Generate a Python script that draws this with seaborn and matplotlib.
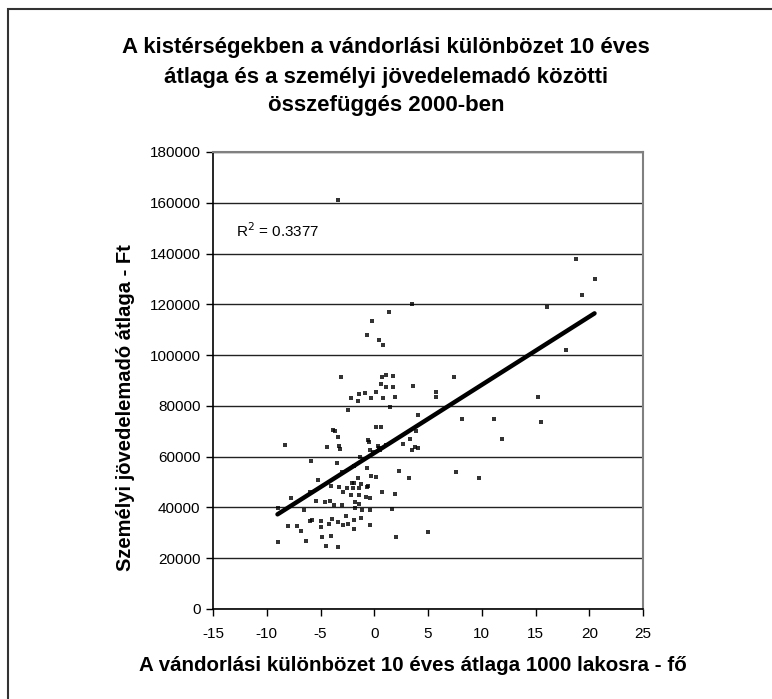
import matplotlib
matplotlib.use("Agg")
import matplotlib.pyplot as plt
import seaborn as sns
import pandas as pd
from matplotlib.patches import Rectangle

# vándorlási különbözet 10 éves átlaga (1000 lakosra, fő)
migration = [
    -3.38, 18.75, 20.49, 19.31, 3.49, 1.35, 16.11, -0.17, -0.64, 0.42,
    0.85, 17.85, -3.13, 0.76, 1.10, 1.78, 7.44, 0.63, 1.07, 1.78,
    3.62, 5.70, 5.70, 15.21, -1.45, -0.83, 0.17, -2.13, -1.54, -0.27,
    0.82, 1.91, 1.44, -2.47, 4.08, 8.12, 11.17, 15.52, 11.85, -3.84,
    -3.62, -3.41, 0.17, 0.63, 3.93, 3.34, 2.69, 3.49, 3.83, 4.08,
    -0.55, -0.52, 0.32, 1.07, 0.45, -0.36, -0.14, 0.57, -3.28, -3.22,
    -4.40, -8.29, -5.92, -3.50, -1.32, -1.92, -3.00, -0.64, 2.34, 7.63,
    -5.21, -1.48, -0.27, 0.17, 3.27, 9.71, -2.10, -1.85, -1.26, -4.00,
    -3.25, -2.57, -2.01, -1.42, -0.67, -0.55, -5.99, -2.94, 0.73, 1.91,
    -2.13, -1.42, -0.77, -0.39, -7.73, -5.46, -4.56, -4.15, -1.79, -1.45,
    -3.72, -3.00, -9.00, -1.79, 1.66, -6.58, -1.11, -0.39, -2.63, -1.20,
    -3.97, -1.92, -5.80, -6.02, -4.99, -4.18, -3.38, -2.44, -2.91, -0.39,
    -7.98, -7.17, -4.99, -1.92, -6.83, 4.98, -4.87, -4.06, 2.00, -6.36,
    -9.00, -4.49, -3.41,
]

# személyi jövedelemadó átlaga (Ft)
income_tax = [
    161000, 137800, 130050, 123750, 119950, 116930, 118900, 113520, 107740, 105770,
    103810, 101970, 91210, 91210, 92260, 91730, 91210, 88720, 87400, 87400,
    87930, 85430, 83460, 83460, 84510, 85040, 85430, 83070, 82020, 83070,
    83070, 83460, 79660, 78220, 76250, 74800, 74800, 73750, 67060, 70470,
    69950, 67590, 71520, 71520, 69950, 67060, 65090, 62730, 63650, 63250,
    66540, 65620, 64170, 64700, 63250, 62730, 61680, 62730, 64170, 63120,
    63650, 64700, 58270, 57350, 59710, 56300, 53810, 55380, 54330, 53940,
    50920, 51570, 52360, 51970, 51570, 51570, 49610, 49610, 49210, 48560,
    47900, 47640, 47640, 47640, 47900, 48560, 46190, 46190, 46190, 45280,
    44880, 44880, 44230, 43700, 43700, 42390, 41990, 42390, 42260, 41470,
    40810, 40810, 39900, 39900, 39370, 38850, 38980, 38980, 36610, 35960,
    35430, 35170, 35040, 34650, 34650, 33600, 34120, 33600, 33070, 33070,
    32680, 32680, 32280, 31630, 30710, 30180, 28350, 28740, 28350, 26770,
    26250, 24930, 24410,
]

x_ticks = [-15, -10, -5, 0, 5, 10, 15, 20, 25]
y_ticks = [0, 20000, 40000, 60000, 80000, 100000, 120000, 140000, 160000, 180000]
r2_label = "R$^2$ = 0.3377"

title = ("A kistérségekben a vándorlási különbözet 10 éves\n"
         "átlaga és a személyi jövedelemadó közötti\n"
         "összefüggés 2000-ben")
x_label = "A vándorlási különbözet 10 éves átlaga 1000 lakosra - fő"
y_label = "Személyi jövedelemadó átlaga - Ft"

df = pd.DataFrame({"migr": migration, "szja": income_tax})

sns.set_style("white")
plt.rcParams["font.family"] = ["Liberation Sans", "DejaVu Sans"]
plt.rcParams.update({"text.color": "black", "axes.labelcolor": "black",
                     "xtick.color": "black", "ytick.color": "black"})

fig = plt.figure(figsize=(7.72, 6.99), dpi=100)
ax = fig.add_axes([213 / 772, 1 - 609 / 699, 430 / 772, 457 / 699])

sns.regplot(x="migr", y="szja", data=df, ax=ax, ci=None, color="black",
            marker="s", scatter_kws={"s": 5, "linewidths": 0},
            line_kws={"linewidth": 3.2, "solid_capstyle": "round"})

ax.set_xlim(-15, 25)
ax.set_ylim(0, 180000)
ax.set_xticks(x_ticks)
ax.set_yticks(y_ticks)
ax.set_xticklabels([str(t) for t in x_ticks], fontsize=11)
ax.set_yticklabels([str(t) for t in y_ticks], fontsize=11)
ax.tick_params(axis="both", direction="out", length=5, width=1, color="black",
               left=True, bottom=True, pad=4)
ax.tick_params(axis="x", pad=8)

ax.yaxis.grid(True, color="#222222", linewidth=1)
ax.set_axisbelow(True)

for side in ["left", "bottom"]:
    ax.spines[side].set_color("black")
    ax.spines[side].set_linewidth(1.2)
for side in ["top", "right"]:
    ax.spines[side].set_color("#808080")
    ax.spines[side].set_linewidth(1.5)

ax.set_xlabel(x_label, fontsize=14.8, fontweight="bold")
ax.set_ylabel(y_label, fontsize=14.5, fontweight="bold")
ax.xaxis.set_label_coords(0.465, -0.103)
ax.yaxis.set_label_coords(-0.181, 0.441)

ax.text(-12.9, 149000, r2_label, fontsize=11, va="center", ha="left")

fig.text(0.5, 1 - 77 / 699, title, ha="center", va="center",
         fontsize=16, fontweight="bold", linespacing=1.5)

# chart frame
fig.patches.append(Rectangle((8 / 772, -0.1), 1.2, 1 - 9 / 699 + 0.1,
                             transform=fig.transFigure, fill=False,
                             edgecolor="#333333", linewidth=1.5))

fig.savefig("out.png", dpi=100)
